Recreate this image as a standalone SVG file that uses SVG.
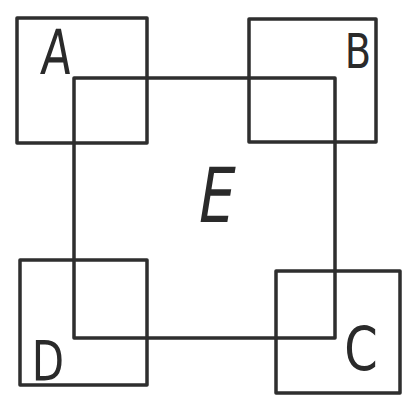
<svg xmlns="http://www.w3.org/2000/svg" width="404" height="395" viewBox="0 0 404 395">
<style>
.box{fill:none;stroke:#2e2e2e;stroke-width:3.5;stroke-linejoin:round}
.lbl{font-family:"DejaVu Sans","Liberation Sans",sans-serif;fill:#2a2a2a;text-anchor:middle}
</style>
<rect width="404" height="395" fill="#ffffff"/>
<g id="node-A">
<rect class="box" x="17" y="18" width="130" height="125"/>
<text class="lbl" font-size="62" transform="translate(55,74) scale(0.72,1) skewX(-6)">A</text>
</g>
<g id="node-B">
<rect class="box" x="249" y="19" width="127" height="123"/>
<text class="lbl" font-size="48" transform="translate(358,68) scale(0.8,1)">B</text>
</g>
<g id="node-E">
<rect class="box" x="74" y="78" width="261" height="260"/>
<text class="lbl" font-size="76" transform="translate(213,222) scale(0.75,1) skewX(-12)">E</text>
</g>
<g id="node-D">
<rect class="box" x="20" y="260" width="127" height="125"/>
<text class="lbl" font-size="56" transform="translate(48,380) scale(0.75,1)">D</text>
</g>
<g id="node-C">
<rect class="box" x="276" y="271" width="124" height="122"/>
<text class="lbl" font-size="60" transform="translate(361,370) scale(0.8,1)">C</text>
</g>
<g id="connectors"></g>
</svg>
